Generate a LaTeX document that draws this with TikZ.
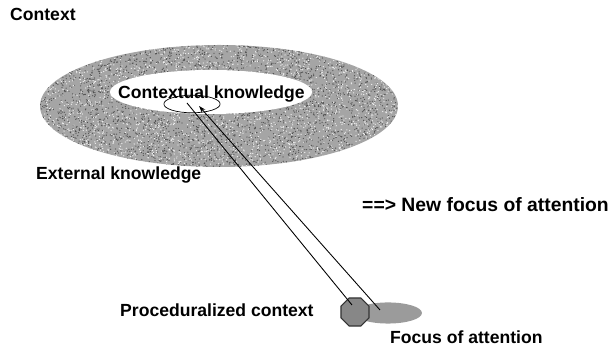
\documentclass[tikz,border=0pt]{standalone}
\usepackage{fontspec}
\setmainfont{Liberation Sans}
\usetikzlibrary{arrows.meta,positioning,shapes.geometric}
\definecolor{ringGray}{RGB}{165,165,165}
\definecolor{speckDark}{RGB}{80,80,80}
\definecolor{procGray}{RGB}{135,135,135}
\definecolor{focusGray}{RGB}{155,155,155}
\tikzset{
  lbl/.style={anchor=west, inner sep=0pt, font=\fontsize{15}{17}\selectfont\bfseries},
  ray/.style={line width=0.75pt}
}

\begin{document}
\begin{tikzpicture}[x=0.03cm, y=0.03cm]
    \useasboundingbox (0,0) rectangle (610,347);
    % Outer ring: external knowledge (speckled)
    \fill[ringGray] (219,241) ellipse (179 and 61);
    \begin{scope}
      \clip (219,241) ellipse (179 and 61);
      \pgfmathsetseed{7}
      \foreach \i in {1,...,3500}
        \fill[speckDark] ({40+358*rnd},{180+122*rnd}) circle (0.55pt);
      \foreach \i in {1,...,2500}
        \fill[white!90!gray] ({40+358*rnd},{180+122*rnd}) circle (0.55pt);
    \end{scope}
    % Inner white hole: contextual knowledge
    \fill[white] (211,255) ellipse (101 and 22);
    \node[lbl] (ctxknow) at (118,253) {Contextual knowledge};
    % Small spot inside contextual knowledge
    \node[draw, ellipse, line width=0.6pt, minimum width=48, minimum height=15, inner sep=0pt] (ctxspot) at (192,243) {};
    % Focus of attention and proceduralized context
    \node[ellipse, fill=focusGray, minimum width=58, minimum height=18, inner sep=0pt] (focus) at (388,34) {};
    \node[regular polygon, regular polygon sides=8, draw=black!80, line width=1pt, fill=procGray, minimum size=26, inner sep=0pt] (proc) at (355,35) {};
    % Rays between the spot and the focus
    \coordinate (rayAtop) at (187,244);
    \coordinate (rayAbot) at (352,42);
    \coordinate (rayBtop) at (199,241);
    \coordinate (rayBbot) at (380,37);
    \draw[ray] (rayAtop) -- (rayAbot);
    \draw[ray, -{Stealth[length=6pt,width=4pt]}] (rayBbot) -- (rayBtop);
    % Labels
    \node[lbl] (context) at (10,333) {Context};
    \node[lbl] (extknow) at (36,172) {External knowledge};
    \node[lbl, font=\fontsize{16.5}{18}\selectfont\bfseries] (newfocus) at (362,142) {==> New focus of attention};
    \node[lbl] (procctx) at (120,37) {Proceduralized context};
    \node[lbl] (focuslbl) at (390,10) {Focus of attention};
  \end{tikzpicture}
\end{document}
